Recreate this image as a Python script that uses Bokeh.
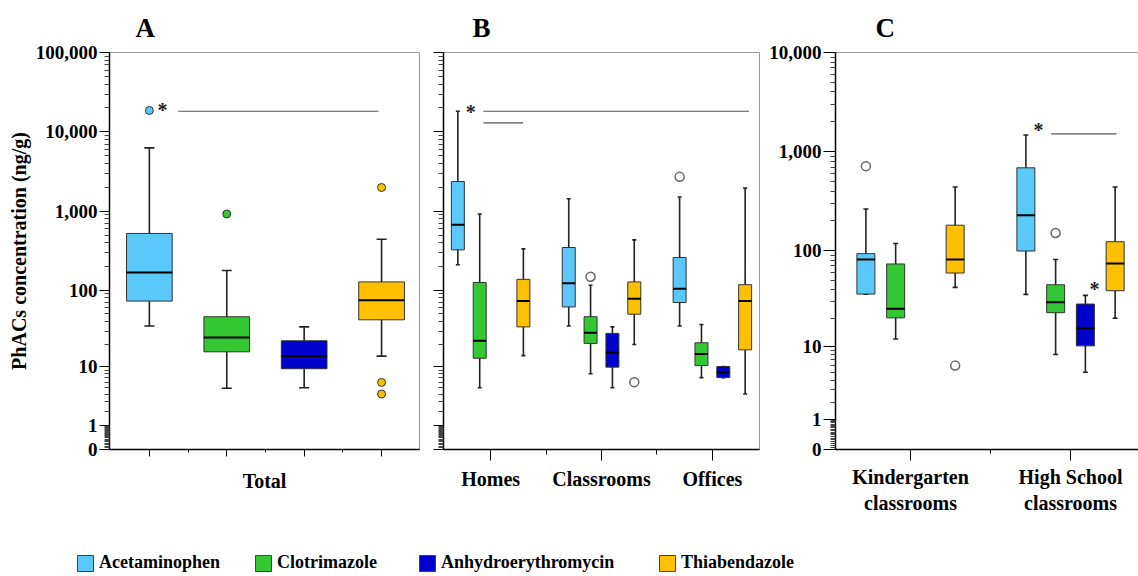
import math
from bokeh.plotting import figure
from bokeh.models import (Range1d, FixedTicker, ColumnDataSource, Whisker, TeeHead,
                          Legend, LegendItem, LinearAxis)
from bokeh.layouts import row, column
from bokeh.embed import file_html
from bokeh.resources import INLINE
from bokeh.core.properties import value

# ---------------- data ----------------
DRUGS = ["Acetaminophen", "Clotrimazole", "Anhydroerythromycin", "Thiabendazole"]
COLORS = ["#5AC8F8", "#33C833", "#0000CC", "#FFC000"]

# each box: [lower whisker, Q1, median, Q3, upper whisker]  (ng/g)
# Panel A - Total
A_ACET = [35, 73, 168, 525, 6300]
A_CLOT = [4.9, 16, 24.8, 46, 179]
A_ANHY = [5.0, 9.4, 14, 22.4, 34]
A_THIA = [14, 42, 75, 128, 444]
A_OUT_DRUG = [0, 1, 3, 3, 3]
A_OUT_VALUE = [18600, 924, 1994, 6.0, 4.0]

# Panel B - Homes, Classrooms, Offices
B_CATEGORIES = ["Homes", "Classrooms", "Offices"]
B_ACET = [[211, 326, 678, 2370, 18200], [35, 61.5, 123, 349, 1438], [35, 70, 105, 261, 1510]]
B_CLOT = [[5.0, 13.1, 22.4, 126, 924], [8.0, 20.7, 28.5, 46, 116], [7.05, 10.4, 15, 21.1, 36.6]]
B_ANHY = [None, [5.0, 9.9, 15.7, 28, 34], [7.05, 7.05, 8.4, 10.1, 10.1]]
B_THIA = [[14.2, 34, 73, 138, 335], [20, 49.6, 78, 128, 436], [4.0, 17, 73, 118, 1958]]
B_OUT_CAT = [1, 1, 2]
B_OUT_DRUG = [1, 3, 0]
B_OUT_VALUE = [149, 6.05, 2715]

# Panel C - Kindergarten / High School classrooms
C_CATEGORIES = ["Kindergarten\nclassrooms", "High School\nclassrooms"]
C_ACET = [[35.8, 35.8, 81, 93, 264], [35.6, 99, 228, 688, 1475]]
C_CLOT = [[12, 20.2, 25.2, 73, 118], [8.06, 22.9, 29.4, 44.7, 81]]
C_ANHY = [None, [5.0, 10.07, 15.7, 28.2, 34.7]]
C_THIA = [[42, 59, 81, 181, 440], [20, 38.8, 74, 123, 440]]
C_OUT_CAT = [0, 0, 1]
C_OUT_DRUG = [0, 3, 1]
C_OUT_VALUE = [715, 6.0, 151]

# significance marks: star (x, value), line (x0, x1, value)
A_STAR_X, A_STAR_V = [0.17], [19000]
A_LINE_X0, A_LINE_X1, A_LINE_V = [0.373], [2.96], [18200]
B_STAR_X, B_STAR_V = [-0.18], [18000]
B_LINE_X0, B_LINE_X1, B_LINE_V = [-0.065, -0.065], [2.33, 0.293], [18200, 13000]
C_STAR_X, C_STAR_V = [0.80, 1.15], [1650, 40]
C_LINE_X0, C_LINE_X1, C_LINE_V = [0.879], [1.2875], [1512]

Y_TICKS = [0, 1, 10, 100, 1000, 10000, 100000]
Y_LABELS = ["0", "1", "10", "100", "1,000", "10,000", "100,000"]

FONT = "Liberation Serif"
H = 516


def y_ticker(max_dec):
    major = [v + 1 for v in Y_TICKS if v <= 10 ** max_dec]
    minor = [k * 10 ** n + 1 for n in range(0, max_dec) for k in range(2, 10)]
    minor += [1 + 0.05 * k for k in range(1, 20)]
    return FixedTicker(ticks=major, minor_ticks=minor)


def make_fig(width, xr, max_dec, left, right, letter, offset):
    p = figure(width=width, height=H, x_range=Range1d(*xr),
               y_range=Range1d(1, 10 ** max_dec + 1), y_axis_type="log",
               output_backend="svg", toolbar_location=None,
               min_border_left=left, min_border_right=right,
               min_border_top=51, min_border_bottom=66)
    p.title.text = letter
    p.title.text_font = FONT
    p.title.text_font_style = "bold"
    p.title.text_font_size = "27px"
    p.title.text_color = "black"
    p.title.align = "left"
    p.title.offset = offset
    p.title.standoff = 20
    p.xgrid.visible = False
    p.ygrid.visible = False
    p.outline_line_color = "#9a9a9a"
    p.outline_line_width = 1
    ya = p.yaxis[0]
    ya.ticker = y_ticker(max_dec)
    ya.major_label_overrides = {v + 1: l for v, l in zip(Y_TICKS, Y_LABELS) if v <= 10 ** max_dec}
    ya.axis_line_color = "black"
    ya.axis_line_width = 1.5
    ya.major_tick_out = 10
    ya.major_tick_in = 0
    ya.minor_tick_out = 5
    ya.minor_tick_in = 0
    ya.major_tick_line_color = "black"
    ya.minor_tick_line_color = "#444"
    ya.major_label_text_font = FONT
    ya.major_label_text_font_style = "bold"
    ya.major_label_text_font_size = "19px"
    ya.major_label_text_color = "black"
    ya.major_label_standoff = 2
    xa = p.below[0]
    xa.axis_line_color = "black"
    xa.axis_line_width = 1.5
    xa.major_tick_in = 0
    xa.minor_tick_in = 0
    xa.major_tick_line_color = "black"
    xa.minor_tick_line_color = "black"
    xa.major_label_text_font = FONT
    xa.major_label_text_font_style = "bold"
    xa.major_label_text_font_size = "20px"
    xa.major_label_text_color = "black"
    xa.axis_label_text_color = "black"
    return p


def draw_boxes(p, centers, slot, width, groups, cap):
    d = dict(x=[], lo=[], q1=[], med=[], q3=[], hi=[], left=[], right=[], color=[])
    for k, stats in enumerate(groups):
        for c, s in zip(centers, stats):
            if s is None:
                continue
            x = c + (k - 1.5) * slot
            lo, q1, med, q3, hi = (v + 1 for v in s)
            d["x"].append(x); d["lo"].append(lo); d["q1"].append(q1)
            d["med"].append(med); d["q3"].append(q3); d["hi"].append(hi)
            d["left"].append(x - width / 2); d["right"].append(x + width / 2)
            d["color"].append(COLORS[k])
    src = ColumnDataSource(d)
    w = Whisker(source=src, base="x", lower="lo", upper="hi", dimension="height",
                line_color="#222", line_width=1.6, level="underlay",
                lower_head=TeeHead(size=cap, line_color="#222", line_width=1.6),
                upper_head=TeeHead(size=cap, line_color="#222", line_width=1.6))
    p.add_layout(w)
    p.vbar(x="x", width=width, bottom="q1", top="q3", fill_color="color",
           line_color="#333", line_width=1, source=src)
    p.segment(x0="left", y0="med", x1="right", y1="med", line_color="black",
              line_width=2, source=src)


def draw_outliers(p, centers, slot, cats, drugs, vals, filled):
    xs = [centers[c] + (k - 1.5) * slot for c, k in zip(cats, drugs)]
    ys = [v + 1 for v in vals]
    if filled:
        p.scatter(xs, ys, size=8, fill_color=[COLORS[k] for k in drugs],
                  line_color="#333", line_width=1)
    else:
        p.scatter(xs, ys, size=9, fill_color="white", line_color="#666", line_width=1.5)


def draw_sig(p, sx, sv, lx0, lx1, lv):
    p.segment(x0=lx0, y0=[v + 1 for v in lv], x1=lx1, y1=[v + 1 for v in lv],
              line_color="#555", line_width=1.2)
    p.text(x=sx, y=[v + 1 for v in sv], text=["*"] * len(sx), text_font=value(FONT),
           text_font_style="bold", text_font_size="20px", text_align="center",
           text_baseline="middle", text_color="#222")


# ---------------- Panel A ----------------
pA = make_fig(420, (-0.515, 3.49), 5, 109, 1, "A", 26)
ya = pA.yaxis[0]
ya.axis_label = "PhACs concentration (ng/g)"
ya.axis_label_text_font = FONT
ya.axis_label_text_font_style = "bold"
ya.axis_label_text_font_size = "20px"
ya.axis_label_text_color = "black"
ya.axis_label_standoff = 3
xa = pA.below[0]
xa.ticker = FixedTicker(ticks=[0, 1, 2, 3], minor_ticks=[0.5, 1.5, 2.5])
xa.major_tick_out = 7
xa.minor_tick_out = 3
xa.major_label_overrides = {0: "", 1: "", 2: "", 3: ""}
xa.major_label_standoff = 0
xa.axis_label = "Total"
xa.axis_label_text_font = FONT
xa.axis_label_text_font_style = "bold"
xa.axis_label_text_font_size = "20px"
xa.axis_label_standoff = 13
draw_boxes(pA, [1.5], 1.0, 0.59, [[A_ACET], [A_CLOT], [A_ANHY], [A_THIA]], 10)
draw_outliers(pA, [1.5], 1.0, [0] * len(A_OUT_DRUG), A_OUT_DRUG, A_OUT_VALUE, True)
draw_sig(pA, A_STAR_X, A_STAR_V, A_LINE_X0, A_LINE_X1, A_LINE_V)

# ---------------- Panel B ----------------
pB = make_fig(340, (-0.425, 2.425), 5, 23, 1, "B", 29)
yb = pB.yaxis[0]
yb.major_label_overrides = {t: "" for t in yb.ticker.ticks}
yb.major_label_standoff = 0
xb = pB.below[0]
xb.ticker = FixedTicker(ticks=[0, 1, 2], minor_ticks=[0.5, 1.5])
xb.major_tick_out = 11
xb.minor_tick_out = 5
xb.major_label_standoff = 7
xb.major_label_overrides = {i: c for i, c in enumerate(B_CATEGORIES)}
draw_boxes(pB, [0, 1, 2], 0.197, 0.117, [B_ACET, B_CLOT, B_ANHY, B_THIA], 4)
draw_outliers(pB, [0, 1, 2], 0.197, B_OUT_CAT, B_OUT_DRUG, B_OUT_VALUE, False)
draw_sig(pB, B_STAR_X, B_STAR_V, B_LINE_X0, B_LINE_X1, B_LINE_V)

# ---------------- Panel C ----------------
pC = make_fig(378, (-0.469, 1.425), 4, 75, 0, "C", 40)
pC.outline_line_color = None
xc = pC.below[0]
xc.ticker = FixedTicker(ticks=[0, 1], minor_ticks=[0.5])
xc.major_tick_out = 11
xc.minor_tick_out = 4
xc.major_label_standoff = 5
xc.major_label_overrides = {i: c for i, c in enumerate(C_CATEGORIES)}
top = LinearAxis(ticker=FixedTicker(ticks=[], minor_ticks=[]), axis_line_color="#9a9a9a",
                 major_label_overrides={}, major_tick_out=0, minor_tick_out=0,
                 major_label_standoff=0)
pC.add_layout(top, "above")
pC.yaxis[0].major_tick_out = 12
pC.yaxis[0].major_label_standoff = 2
draw_boxes(pC, [0, 1], 0.186, 0.1125, [C_ACET, C_CLOT, C_ANHY, C_THIA], 5)
draw_outliers(pC, [0, 1], 0.186, C_OUT_CAT, C_OUT_DRUG, C_OUT_VALUE, False)
draw_sig(pC, C_STAR_X, C_STAR_V, C_LINE_X0, C_LINE_X1, C_LINE_V)

# ---------------- Legend ----------------
LEGEND_X = [75, 253, 417, 657]
leg = figure(width=1138, height=60, output_backend="svg", toolbar_location=None,
             x_range=Range1d(0, 1), y_range=Range1d(0, 1),
             x_axis_location=None, y_axis_location=None, min_border=0)
leg.grid.visible = False
leg.outline_line_color = None
for x0, name, color in zip(LEGEND_X, DRUGS, COLORS):
    r = leg.vbar(x=[float("nan")], top=[float("nan")], width=1, fill_color=color,
                 line_color="#444")
    lg = Legend(items=[LegendItem(label=name, renderers=[r])], location=(x0, 3),
                orientation="horizontal", glyph_width=20, glyph_height=20,
                label_standoff=4, padding=0, margin=0, spacing=0,
                border_line_color=None, background_fill_alpha=0,
                label_text_font=FONT, label_text_font_style="bold",
                label_text_font_size="18px", label_text_color="black", label_height=20)
    leg.add_layout(lg)

layout = column(row(pA, pB, pC), leg)
open("out.html", "w").write(file_html(layout, INLINE))
